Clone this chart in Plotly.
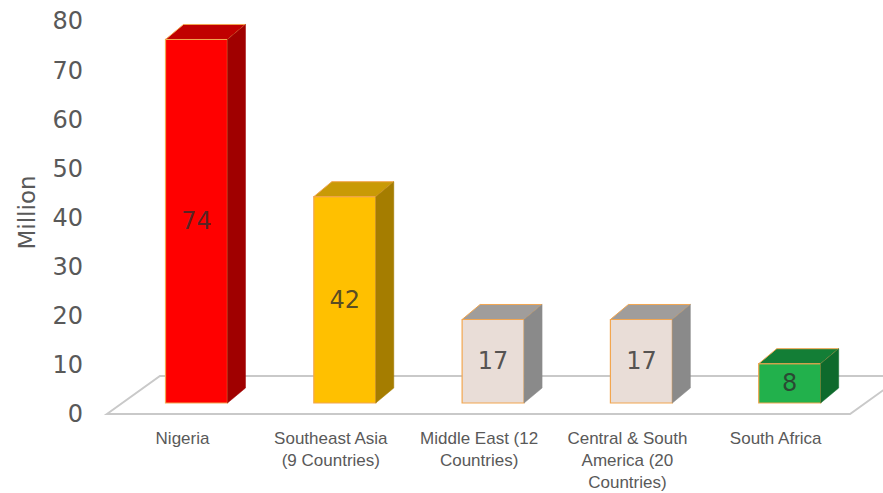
import plotly.graph_objects as go

# ---- data ----
categories = [
    "Nigeria",
    "Southeast Asia<br>(9 Countries)",
    "Middle East (12<br>Countries)",
    "Central & South<br>America (20<br>Countries)",
    "South Africa",
]
values = [74, 42, 17, 17, 8]
y_ticks = [0, 10, 20, 30, 40, 50, 60, 70, 80]

# ---- style ----
front_colors = ["#FF0000", "#FFC000", "#E9DDD7", "#E9DDD7", "#22B14C"]
top_colors = ["#C00000", "#C99A06", "#A09D9B", "#A09D9B", "#137E36"]
side_colors = ["#A00000", "#A57D00", "#8A8A8A", "#8A8A8A", "#0E6A2C"]
edge_color = "#F2A650"

PX_PER_CAT = 148.3
PX_PER_UNIT = 4.9125
BAR_W = 0.418
DEPTH_X = 18 / PX_PER_CAT
DEPTH_Y = 15 / PX_PER_UNIT
BASE = 11 / PX_PER_UNIT

x_pos = list(range(len(values)))

fig = go.Figure()

# floor (perspective plane)
fl_front = 0.0
fl_back = 38 / PX_PER_UNIT
fl_skew = 53 / PX_PER_CAT
fl_left = -0.604
fl_right = len(values) - 1 + 0.407
fig.add_shape(
    type="path",
    path=(f"M {fl_left},{fl_front} L {fl_left + fl_skew},{fl_back} "
          f"L {fl_right + fl_skew},{fl_back} L {fl_right},{fl_front} Z"),
    line=dict(color="#C9C9C9", width=2),
    fillcolor="white",
    layer="below",
)

# front faces
fig.add_trace(go.Bar(
    x=x_pos,
    y=values,
    base=[BASE] * len(values),
    width=BAR_W,
    marker=dict(color=front_colors, line=dict(color=edge_color, width=1.2)),
    text=[str(v) for v in values],
    textposition="inside",
    insidetextanchor="middle",
    textangle=0,
    textfont=dict(family="DejaVu Sans", size=24, color="rgba(45,45,45,0.8)"),
    hovertemplate="%{text}<extra></extra>",
    showlegend=False,
))

# top and side faces
for i, v in enumerate(values):
    xl = x_pos[i] - BAR_W / 2
    xr = x_pos[i] + BAR_W / 2
    top = BASE + v
    fig.add_trace(go.Scatter(
        x=[xl, xl + DEPTH_X, xr + DEPTH_X, xr, xl],
        y=[top, top + DEPTH_Y, top + DEPTH_Y, top, top],
        mode="lines", fill="toself", fillcolor=top_colors[i],
        line=dict(color=edge_color, width=1), hoverinfo="skip", showlegend=False,
    ))
    fig.add_trace(go.Scatter(
        x=[xr, xr + DEPTH_X, xr + DEPTH_X, xr, xr],
        y=[BASE, BASE + DEPTH_Y, top + DEPTH_Y, top, BASE],
        mode="lines", fill="toself", fillcolor=side_colors[i],
        line=dict(color=side_colors[i], width=0.5), hoverinfo="skip", showlegend=False,
    ))

W, H = 883, 493
ML, MR, MT, MB = 92, 0, 5, 73
plot_w = W - ML - MR
plot_h = H - MT - MB
x0 = (ML - 196.5) / PX_PER_CAT
y0 = -(H - MB - 414) / PX_PER_UNIT

fig.update_layout(
    width=W, height=H, autosize=False,
    margin=dict(l=ML, r=MR, t=MT, b=MB, autoexpand=False),
    paper_bgcolor="white", plot_bgcolor="white",
    font=dict(family="Liberation Sans", color="#595959"),
    xaxis=dict(
        range=[x0, x0 + plot_w / PX_PER_CAT],
        tickmode="array", tickvals=x_pos, ticktext=categories,
        showgrid=False, zeroline=False, showline=False, ticks="",
        tickfont=dict(family="Liberation Sans", size=17, color="#595959"),
        ticklabelshift=-14, ticklabelstandoff=6,
        automargin=False, fixedrange=True,
    ),
    yaxis=dict(
        range=[y0, y0 + plot_h / PX_PER_UNIT],
        tickmode="array", tickvals=y_ticks,
        showgrid=False, zeroline=False, showline=False, ticks="",
        tickfont=dict(family="DejaVu Sans", size=24, color="#595959"),
        ticklabelstandoff=8,
        title=dict(text="Million", font=dict(family="DejaVu Sans", size=23, color="#595959"), standoff=10),
        automargin=False, fixedrange=True,
    ),
)

fig.write_html("out.html")
